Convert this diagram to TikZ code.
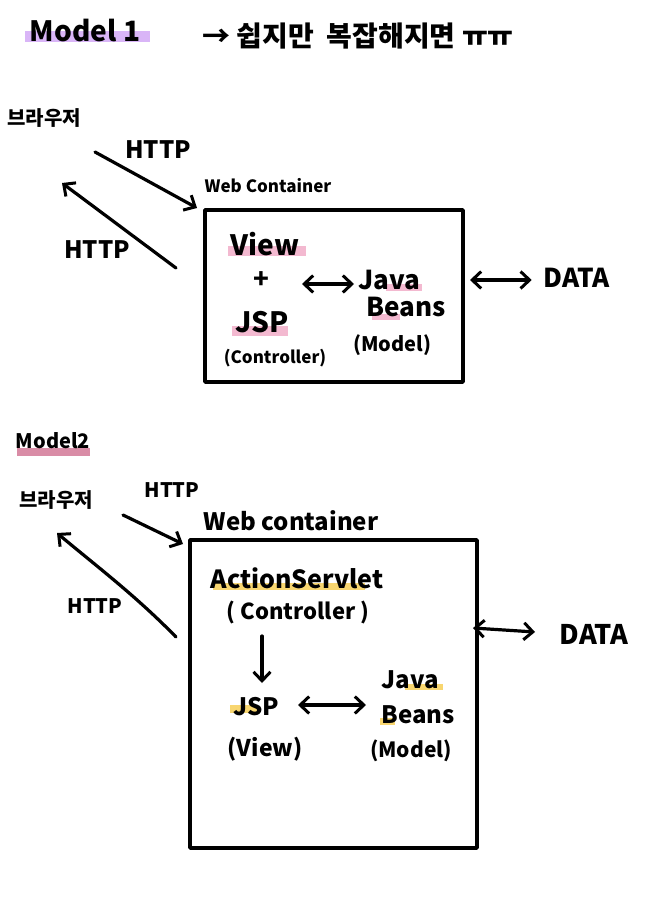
\documentclass[tikz,border=0pt]{standalone}
\usepackage{fontspec}
\setmainfont{Noto Sans CJK KR}
\usetikzlibrary{arrows.meta}
\definecolor{hlpurple}{HTML}{D9B5F7}
\definecolor{hlpink}{HTML}{F3B9D0}
\definecolor{hlrose}{HTML}{D98CA6}
\definecolor{hlyellow}{HTML}{F8D670}
\tikzset{
  x=1pt, y=1pt,
  ink/.style={line width=3.2pt, line cap=round, line join=round},
  tip/.tip={Straight Barb[length=9pt,width=17pt,line width=3pt]},
  arr/.style={ink, -tip},
  darr/.style={ink, tip-tip},
  txt/.style={inner sep=0pt, font=\bfseries\fontsize{20}{22}\selectfont},
  fs/.style={font=\bfseries\fontsize{#1}{#1}\selectfont},
  cbox/.style={draw, ink, line width=3.6pt, inner sep=0pt},
}
\begin{document}
\begin{tikzpicture}
\useasboundingbox[fill=white] (0,0) rectangle (653,-904);

% ---------- Model 1 ----------
\fill[hlpurple] (25,-31) rectangle (150,-42);
\node[txt, fs=28] (m1) at (85,-31) {Model 1};
\node[txt, fs=28] (note) at (358,-36) {→ 쉽지만\ \ 복잡해지면 ㅠㅠ};

\node[txt] (br1) at (44,-118) {브라우저};
\node[cbox, minimum width=258pt, minimum height=172pt] (box1) at (334,-296) {};
\node[txt, fs=17] (wc1) at (268,-186) {Web Container};

\coordinate (a1s) at (95,-152);
\coordinate (a1e) at (197,-208);
\draw[arr] (a1s) -- (a1e);
\node[txt, fs=24] (h1) at (158,-150) {HTTP};
\coordinate (r1s) at (176,-268);
\coordinate (r1e) at (62,-183);
\draw[arr] (r1s) -- (r1e);
\node[txt, fs=24] (h2) at (97,-250) {HTTP};

\fill[hlpink] (228,-246) rectangle (306,-256);
\node[txt, fs=28] (view1) at (265,-244) {View};
\node[txt, fs=26] (plus1) at (261,-280) {+};
\fill[hlpink] (232,-326) rectangle (288,-336);
\node[txt, fs=28] (jsp1) at (262,-322) {JSP};
\node[txt, fs=17] (ctl1) at (275,-358) {(Controller)};

\fill[hlpink] (386,-284) rectangle (422,-291);
\node[txt, fs=26] (java1) at (389,-280) {Java};
\fill[hlpink] (372,-314) rectangle (400,-320);
\node[txt, fs=26] (beans1) at (406,-307) {Beans};
\node[txt, fs=20] (mod1) at (392,-345) {(Model)};

\draw[darr] (302,-284) -- (354,-284);
\node[txt, fs=26] (data1) at (577,-278) {DATA};
\coordinate (d1a) at (470,-280);
\draw[darr] (d1a) -- ([xshift=-12pt]data1.west |- d1a);

% ---------- Model 2 ----------
\fill[hlrose] (17,-448) rectangle (90,-456);
\node[txt] (m2) at (53,-441) {Model2};

\node[txt] (br2) at (56,-500) {브라우저};
\node[cbox, minimum width=287pt, minimum height=308pt] (box2) at (333.5,-694) {};
\node[txt, fs=24] (wc2) at (291,-521) {Web container};

\coordinate (a2s) at (123,-515);
\coordinate (a2e) at (183,-544);
\draw[arr] (a2s) -- (a2e);
\node[txt] (h3) at (172,-490) {HTTP};
\coordinate (r2s) at (176,-637);
\coordinate (r2e) at (57,-533);
\draw[arr] (r2s) .. controls (135,-595) and (95,-565) .. (r2e);
\node[txt] (h4) at (95,-606) {HTTP};

\fill[hlyellow] (213,-583) rectangle (365,-590);
\node[txt, fs=25] (as2) at (297,-578) {ActionServlet};
\node[txt, fs=22] (ctl2) at (298,-612) {( Controller )};

\fill[hlyellow] (230,-705) rectangle (258,-713);
\node[txt, fs=24] (jsp2) at (256,-707) {JSP};
\node[txt, fs=23] (v2) at (265,-749) {(View)};

\fill[hlyellow] (405,-684) rectangle (443,-690);
\node[txt, fs=24] (java2) at (410,-680) {Java};
\fill[hlyellow] (380,-718) rectangle (395,-725);
\node[txt, fs=24] (beans2) at (418,-715) {Beans};
\node[txt, fs=21] (mod2) at (411,-751) {(Model)};

\coordinate (d2s) at (262,-636);
\draw[arr] (d2s) -- (d2s |- 0,-683);
\draw[darr] (298,-705) -- (366,-705);

\node[txt, fs=27] (data2) at (594,-634) {DATA};
\coordinate (d2a) at (473,-628);
\draw[darr] (d2a) -- (535,-632);
\end{tikzpicture}
\end{document}
